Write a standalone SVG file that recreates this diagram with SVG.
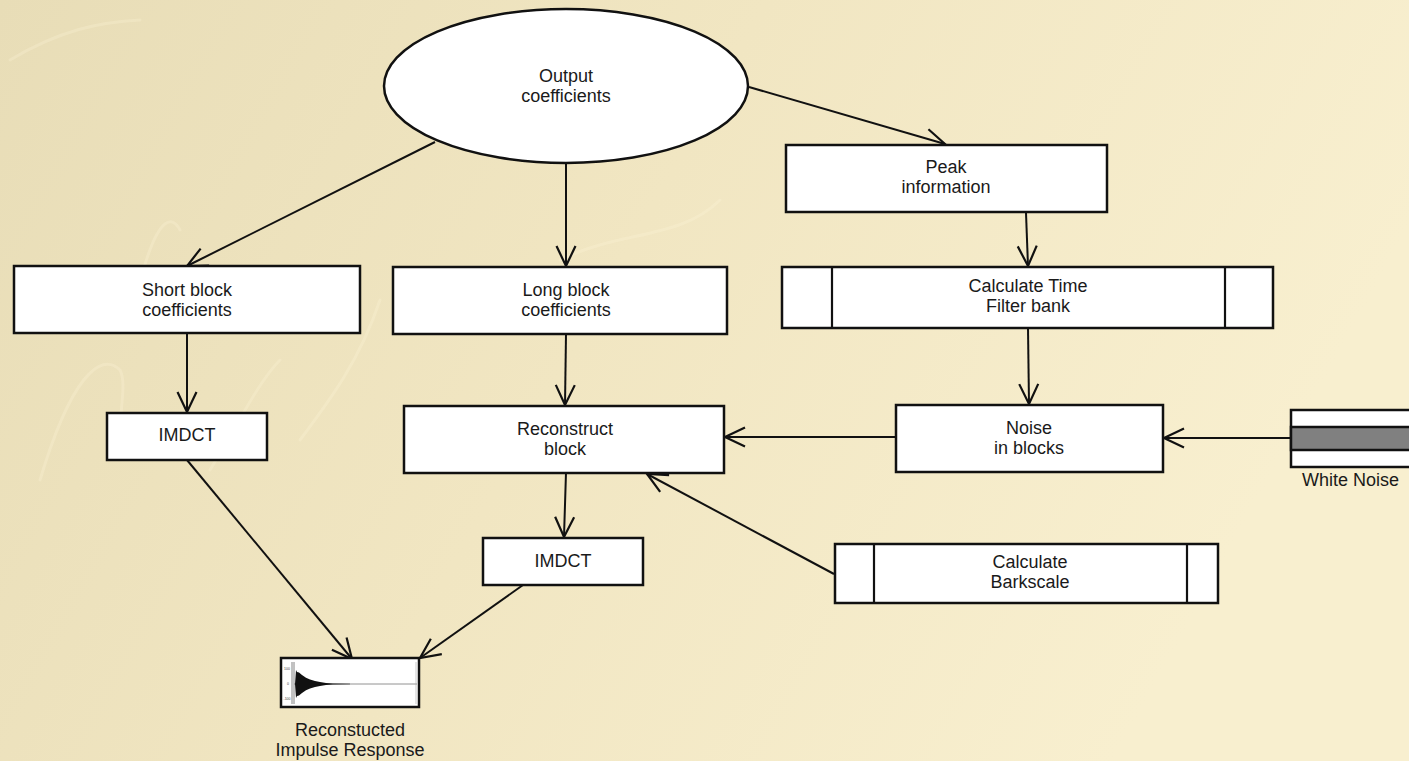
<svg xmlns="http://www.w3.org/2000/svg" width="1409" height="761" viewBox="0 0 1409 761">
<defs>
<linearGradient id="bg" x1="0" y1="0" x2="1" y2="0.3">
<stop offset="0" stop-color="#E8DDB7"/>
<stop offset="0.5" stop-color="#F1E6C2"/>
<stop offset="1" stop-color="#F8EFCF"/>
</linearGradient>
<marker id="arr" markerUnits="userSpaceOnUse" markerWidth="26" markerHeight="26" viewBox="-23 -13 26 26" refX="0" refY="0" orient="auto">
<path d="M-20,-9.5 L0,0 L-20,9.5" fill="none" stroke="#111" stroke-width="2.2"/>
</marker>
<style>
.box{fill:#fff;stroke:#111;stroke-width:2.5}
.ln{fill:none;stroke:#111;stroke-width:2.2}
.edge{fill:none;stroke:#111;stroke-width:2;marker-end:url(#arr)}
.t{font-family:"Liberation Sans",Arial,Helvetica,sans-serif;font-size:18px;fill:#1a1a1a;text-anchor:middle}
.sw{fill:none;stroke:#FFF8DC;stroke-opacity:0.25;stroke-width:3;stroke-linecap:round}
.tiny{font-family:"Liberation Sans",sans-serif;font-size:3.5px;fill:#444;text-anchor:middle}
</style>
</defs>
<rect x="0" y="0" width="1409" height="761" fill="url(#bg)"/>
<g id="background-swirls">
<path class="sw" d="M10,60 C60,30 100,22 140,20"/>
<path class="sw" d="M130,330 C150,220 170,210 180,230"/>
<path class="sw" d="M40,480 C70,380 100,350 120,370 C130,390 110,430 130,460"/>
<path class="sw" d="M210,470 C240,420 260,380 280,360"/>
<path class="sw" d="M300,440 C330,400 360,360 380,300"/>
<path class="sw" d="M560,260 C620,230 680,240 720,200"/>
</g>
<g id="connectors">
<line class="edge" x1="435" y1="142" x2="187" y2="266"/>
<line class="edge" x1="566" y1="163" x2="566" y2="266"/>
<line class="edge" x1="749" y1="87" x2="945" y2="144"/>
<line class="edge" x1="1026" y1="213" x2="1028" y2="266"/>
<line class="edge" x1="1028" y1="328" x2="1029" y2="404"/>
<line class="edge" x1="1291" y1="438" x2="1164" y2="438"/>
<line class="edge" x1="896" y1="437" x2="725" y2="437"/>
<line class="edge" x1="834" y1="574" x2="647" y2="474"/>
<line class="edge" x1="566" y1="334" x2="565" y2="405"/>
<line class="edge" x1="187" y1="333" x2="187" y2="412"/>
<line class="edge" x1="566" y1="473" x2="564" y2="537"/>
<line class="edge" x1="187" y1="460" x2="352" y2="659"/>
<line class="edge" x1="523" y1="585" x2="420" y2="658"/>
</g>
<g id="output-coefficients">
<ellipse class="box" cx="566" cy="86" rx="182" ry="77"/>
<text class="t" x="566" y="81.5">Output</text>
<text class="t" x="566" y="101.5">coefficients</text>
</g>
<g id="peak-information">
<rect class="box" x="786" y="145" width="321" height="67"/>
<text class="t" x="946" y="173">Peak</text>
<text class="t" x="946" y="193">information</text>
</g>
<g id="calculate-time-filter-bank">
<rect class="box" x="782" y="267" width="491" height="61"/>
<line class="ln" x1="832" y1="267" x2="832" y2="328"/>
<line class="ln" x1="1225" y1="267" x2="1225" y2="328"/>
<text class="t" x="1028" y="292">Calculate Time</text>
<text class="t" x="1028" y="312">Filter bank</text>
</g>
<g id="noise-in-blocks">
<rect class="box" x="896" y="405" width="267" height="67"/>
<text class="t" x="1029" y="433.5">Noise</text>
<text class="t" x="1029" y="453.5">in blocks</text>
</g>
<g id="white-noise">
<rect class="box" x="1291" y="410" width="130" height="57"/>
<rect x="1291" y="427" width="130" height="23" fill="#808080" stroke="#111" stroke-width="2.5"/>
<text class="t" x="1302" y="486" style="text-anchor:start">White Noise</text>
</g>
<g id="short-block-coefficients">
<rect class="box" x="14" y="266" width="346" height="67"/>
<text class="t" x="187" y="295.5">Short block</text>
<text class="t" x="187" y="315.5">coefficients</text>
</g>
<g id="long-block-coefficients">
<rect class="box" x="393" y="267" width="334" height="67"/>
<text class="t" x="566" y="295.5">Long block</text>
<text class="t" x="566" y="315.5">coefficients</text>
</g>
<g id="reconstruct-block">
<rect class="box" x="404" y="406" width="320" height="67"/>
<text class="t" x="565" y="434.5">Reconstruct</text>
<text class="t" x="565" y="454.5">block</text>
</g>
<g id="imdct-short">
<rect class="box" x="107" y="413" width="160" height="47"/>
<text class="t" x="187" y="441">IMDCT</text>
</g>
<g id="imdct-long">
<rect class="box" x="483" y="538" width="160" height="47"/>
<text class="t" x="563" y="567">IMDCT</text>
</g>
<g id="calculate-barkscale">
<rect class="box" x="835" y="544" width="383" height="59"/>
<line class="ln" x1="874" y1="544" x2="874" y2="603"/>
<line class="ln" x1="1187" y1="544" x2="1187" y2="603"/>
<text class="t" x="1030" y="567.5">Calculate</text>
<text class="t" x="1030" y="587.5">Barkscale</text>
</g>
<g id="reconstructed-impulse-response">
<rect class="box" x="281" y="658" width="138" height="49"/>
<line x1="292" y1="662" x2="292" y2="704" stroke="#666" stroke-width="0.8"/>
<line x1="294" y1="662" x2="294" y2="704" stroke="#666" stroke-width="0.8"/>
<line x1="294" y1="684" x2="417" y2="684" stroke="#777" stroke-width="0.8"/>
<line x1="416" y1="662" x2="416" y2="704" stroke="#aaa" stroke-width="0.6"/>
<text class="tiny" x="287" y="670">100</text>
<text class="tiny" x="288" y="685">0</text>
<text class="tiny" x="287" y="700">-100</text>
<path d="M295,684 L296,670 L297,672 L299,672.5 L302,675.1 L306,677.7 L310,679.5 L315,681.1 L320,682.1 L326,682.9 L333,683.4 L350,683.8 L350,684.2 L333,684.6 L326,685.1 L320,685.9 L315,686.9 L310,688.5 L306,690.3 L302,692.9 L299,695.5 L297,696 L296,698 Z" fill="#111"/>
<text class="t" x="350" y="736">Reconstucted</text>
<text class="t" x="350" y="756">Impulse Response</text>
</g>
</svg>
